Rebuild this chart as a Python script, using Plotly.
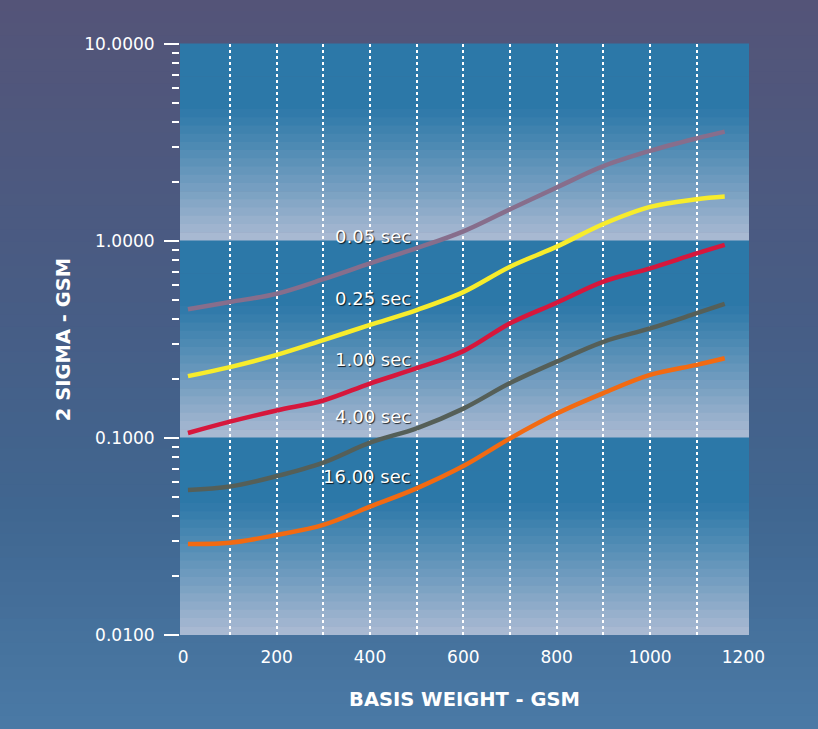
import plotly.graph_objects as go
import numpy as np

# ---- data ----
basis_weight = [10, 100, 200, 300, 400, 500, 600, 700, 800, 900, 1000, 1100, 1160]
sigma_005 = [0.45, 0.49, 0.54, 0.64, 0.77, 0.92, 1.12, 1.45, 1.87, 2.40, 2.87, 3.32, 3.59]
sigma_025 = [0.206, 0.229, 0.264, 0.314, 0.375, 0.446, 0.55, 0.74, 0.936, 1.22, 1.49, 1.63, 1.68]
sigma_100 = [0.106, 0.121, 0.138, 0.155, 0.189, 0.226, 0.276, 0.382, 0.486, 0.622, 0.727, 0.865, 0.955]
sigma_400 = [0.0545, 0.0567, 0.064, 0.075, 0.0947, 0.112, 0.141, 0.19, 0.244, 0.308, 0.36, 0.43, 0.479]
sigma_1600 = [0.029, 0.0294, 0.0322, 0.0362, 0.0448, 0.0555, 0.072, 0.0995, 0.133, 0.169, 0.209, 0.235, 0.254]

series_names = ["0.05 sec", "0.25 sec", "1.00 sec", "4.00 sec", "16.00 sec"]
series_values = [sigma_005, sigma_025, sigma_100, sigma_400, sigma_1600]
series_colors = ["#876e8c", "#f7ec2c", "#d6173c", "#555f58", "#f26a12"]
label_values = [1.048, 0.508, 0.249, 0.128, 0.0634]

y_tickvals = [0.01, 0.1, 1, 10]
y_ticktext = ["0.0100", "0.1000", "1.0000", "10.0000"]
x_tickvals = [0, 200, 400, 600, 800, 1000, 1200]

FONT = "DejaVu Sans"

fig = go.Figure()
for name, vals, col in zip(series_names, series_values, series_colors):
    fig.add_trace(go.Scatter(x=basis_weight, y=vals, mode="lines", name=name,
                             line=dict(color=col, width=4.5, shape="spline", smoothing=1.0),
                             showlegend=False, hoverinfo="skip"))

def lerp(c1, c2, t):
    return "rgb(%d,%d,%d)" % tuple(round(a + (b - a) * t) for a, b in zip(c1, c2))

shapes = []
# outer background gradient (whole figure)
outer_stops = [(0.0, (84, 84, 120)), (0.4, (72, 92, 132)), (0.7, (64, 102, 144)), (1.0, (74, 122, 166))]
N = 60
H = 729
for i in range(N):
    f0 = i / N
    f1 = (i + 1) / N
    fm = (f0 + f1) / 2
    for (a, ca), (b, cb) in zip(outer_stops[:-1], outer_stops[1:]):
        if a <= fm <= b:
            col = lerp(ca, cb, (fm - a) / (b - a))
            break
    y_top = (635 - f0 * H) / 591
    y_bot = (635 - f1 * H) / 591
    shapes.append(dict(type="rect", xref="paper", yref="paper", x0=-0.5, x1=1.5,
                       y0=y_bot, y1=y_top + 0.002, fillcolor=col, line=dict(width=0), layer="below"))

# plot area: each decade dark at top, lightening toward the bottom
dark = (44, 120, 168)
light = (172, 187, 211)
M = 24
for d in range(3):
    top = 1 - d / 3
    for j in range(M):
        f0 = j / M
        f1 = (j + 1) / M
        fm = (f0 + f1) / 2
        t = 0 if fm < 0.32 else ((fm - 0.32) / 0.68) ** 1.1
        col = lerp(dark, light, t)
        shapes.append(dict(type="rect", xref="paper", yref="paper", x0=0, x1=1,
                           y0=top - f1 / 3, y1=top - f0 / 3 + 0.001,
                           fillcolor=col, line=dict(width=0), layer="below"))

annotations = []
for name, v in zip(series_names, label_values):
    annotations.append(dict(x=492, y=np.log10(v), xref="x", yref="y", text=name,
                            showarrow=False, xanchor="right", yanchor="middle",
                            font=dict(family=FONT, size=18, color="white",
                                      shadow="1px 1px 1px rgba(0,0,0,0.8)")))

minor_y = [m * 10.0 ** k for k in (-2, -1, 0) for m in range(2, 10)]

fig.update_layout(
    width=818, height=729,
    margin=dict(l=180, r=69, t=44, b=94),
    paper_bgcolor="#4a6590",
    plot_bgcolor="rgba(0,0,0,0)",
    shapes=shapes,
    annotations=annotations,
    font=dict(family=FONT, color="white", size=17),
    xaxis=dict(range=[-7, 1212], tickvals=x_tickvals, showgrid=False, zeroline=False,
               ticks="", ticklabelstandoff=10,
               tickfont=dict(family=FONT, size=17, color="white"),
               minor=dict(tickvals=list(range(100, 1200, 100)), showgrid=True,
                          griddash="dot", gridcolor="white", gridwidth=1.5, ticks=""),
               title=dict(text="<b>BASIS WEIGHT - GSM</b>", standoff=26,
                          font=dict(family=FONT, size=19.5, color="white"))),
    yaxis=dict(type="log", range=[-2, 1], tickvals=y_tickvals, ticktext=y_ticktext,
               showgrid=False, zeroline=False, ticks="outside", ticklen=15, tickwidth=2,
               tickcolor="white", ticklabelstandoff=6,
               tickfont=dict(family=FONT, size=17, color="white"),
               minor=dict(tickvals=minor_y, ticks="outside", ticklen=7, tickwidth=2,
                          tickcolor="white", showgrid=False),
               title=dict(text="<b>2 SIGMA - GSM</b>", standoff=8,
                          font=dict(family=FONT, size=19.5, color="white"))),
)

fig.write_html("out.html", config={"displayModeBar": False},
               post_script="document.body.style.margin='0';")
